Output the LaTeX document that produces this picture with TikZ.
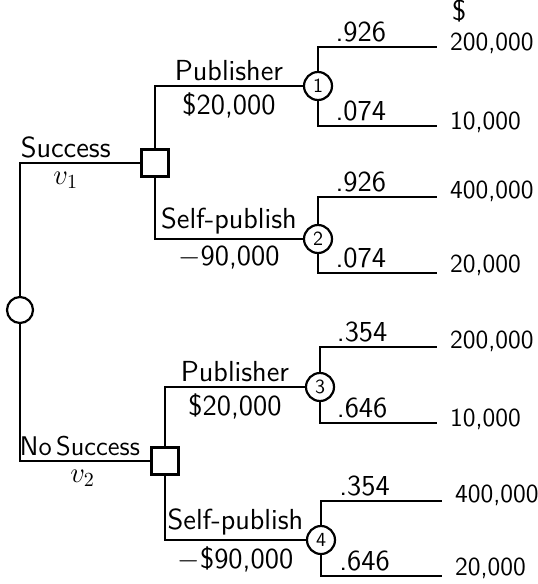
\documentclass[tikz,border=0pt]{standalone}
\usepackage{tikz}
\usetikzlibrary{positioning}

\begin{document}
\begin{tikzpicture}[x=0.5pt, y=-0.5pt, line width=1.1pt,
  lab/.style={font=\sffamily\fontsize{14.5}{16}\selectfont, inner sep=2pt},
  prob/.style={lab, pos=0.68, above},
  val/.style={lab, font=\sffamily\fontsize{13}{15}\selectfont, anchor=west, inner sep=1pt},
  choice/.style={draw, fill=white, minimum size=13.5pt, inner sep=0pt},
  chance/.style={draw, circle, fill=white, minimum size=14pt, inner sep=0pt, font=\sffamily\normalsize}]
\useasboundingbox (0,0) rectangle (537,584);

% root and decision nodes
\node[chance, minimum size=13pt] (r) at (20,310) {};
\node[choice] (d1) at (155,163) {};
\node[choice] (d2) at (165,461) {};

% chance nodes
\node[chance] (c1) at (318,86) {1};
\node[chance] (c2) at (318,239) {2};
\node[chance] (c3) at (320,387) {3};
\node[chance] (c4) at (321,540) {4};

% branch ends
\coordinate (e11) at (437,47);
\coordinate (e12) at (437,126);
\coordinate (e21) at (437,197);
\coordinate (e22) at (437,273);
\coordinate (e31) at (437,347);
\coordinate (e32) at (437,423);
\coordinate (e41) at (442,501);
\coordinate (e42) at (442,576);

% market outcome
\draw (r) |- node[lab, pos=0.69, above] {Success} node[lab, pos=0.69, below=2pt] {$v_1$} (d1);
\draw (r) |- node[lab, pos=0.73, above, font=\sffamily\fontsize{13.5}{15}\selectfont] {No\,Success} node[lab, pos=0.74, below=2pt] {$v_2$} (d2);

% publishing choice
\draw (d1) |- node[lab, pos=0.75, above] {Publisher} node[lab, pos=0.75, below=1pt] {\$20,000} (c1);
\draw (d1) |- node[lab, pos=0.75, above] {Self-publish} node[lab, pos=0.75, below=1pt] {$-$90,000} (c2);
\draw (d2) |- node[lab, pos=0.75, above] {Publisher} node[lab, pos=0.75, below=1pt] {\$20,000} (c3);
\draw (d2) |- node[lab, pos=0.75, above] {Self-publish} node[lab, pos=0.75, below=1pt] {$-$\$90,000} (c4);

% outcomes
\draw (c1) |- node[prob] {.926} (e11);
\draw (c1) |- node[prob] {.074} (e12);
\draw (c2) |- node[prob] {.926} (e21);
\draw (c2) |- node[prob] {.074} (e22);
\draw (c3) |- node[prob] {.354} (e31);
\draw (c3) |- node[prob] {.646} (e32);
\draw (c4) |- node[prob] {.354} (e41);
\draw (c4) |- node[prob] {.646} (e42);

% payoffs
\node[val, yshift=2pt] (p11) at ([xshift=5pt]e11) {200,000};
\node[val, yshift=2pt] (p12) at ([xshift=5pt]e12) {10,000};
\node[val, yshift=3pt] (p21) at ([xshift=5pt]e21) {400,000};
\node[val, yshift=4pt] (p22) at ([xshift=5pt]e22) {20,000};
\node[val, yshift=3pt] (p31) at ([xshift=5pt]e31) {200,000};
\node[val, yshift=2pt] (p32) at ([xshift=5pt]e32) {10,000};
\node[val, yshift=3pt] (p41) at ([xshift=5pt]e41) {400,000};
\node[val, yshift=4pt] (p42) at ([xshift=5pt]e42) {20,000};
\node[lab, above=1pt of p11.north west, anchor=south west] (usd) {\$};
\end{tikzpicture}
\end{document}
